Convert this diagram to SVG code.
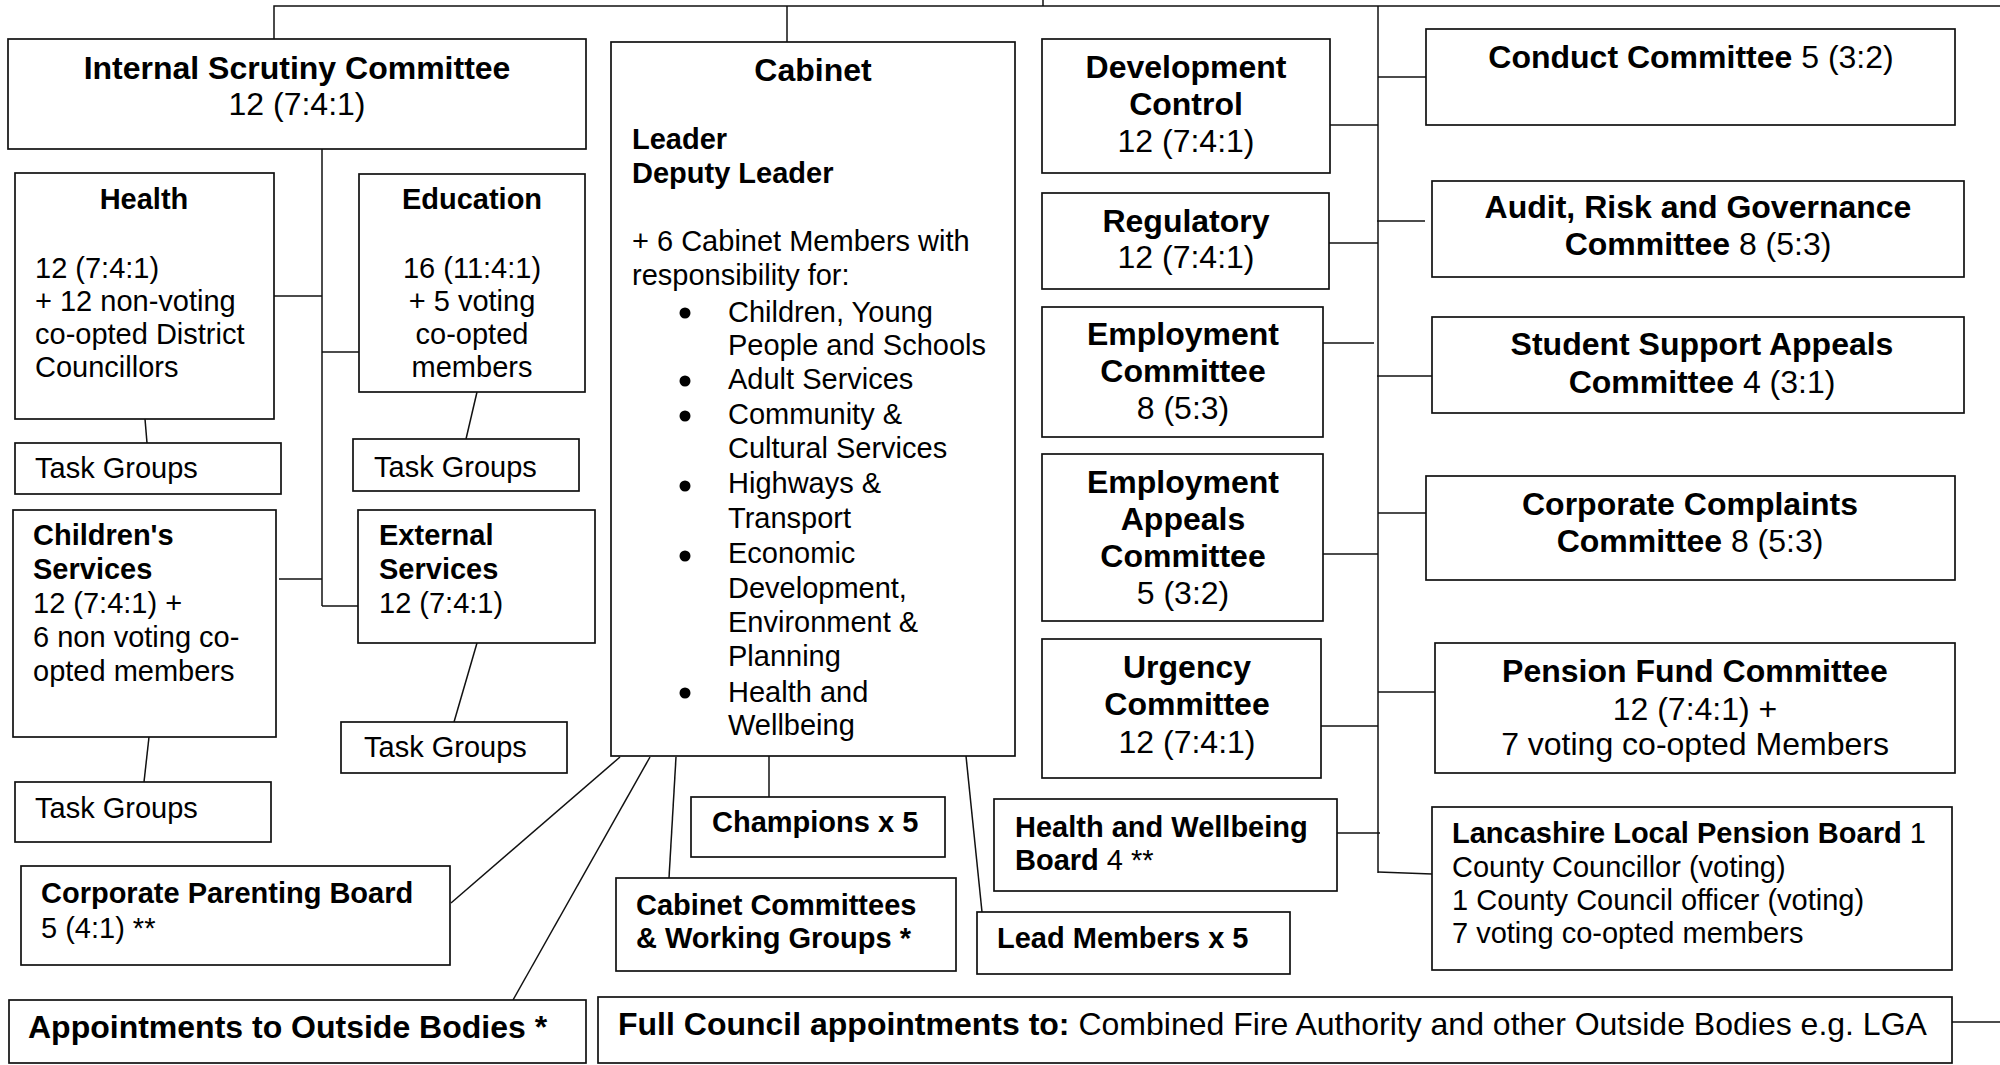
<svg xmlns="http://www.w3.org/2000/svg" width="2000" height="1065" viewBox="0 0 2000 1065">
<style>
text{font-family:"Liberation Sans",Arial,sans-serif;fill:#000}
.b{font-weight:bold}
.l{font-size:32px}
.s{font-size:29px}
.c{text-anchor:middle}
rect{fill:#fff;stroke:#111;stroke-width:1.7}
.cn line,.cn polyline{stroke:#111;stroke-width:1.5;fill:none}
.dot{fill:#000}
</style>
<rect x="0" y="0" width="2000" height="1065" style="stroke:none"/>
<g id="connectors" class="cn">
<polyline points="274,39 274,6 2000,6"/>
<line x1="1043" y1="0" x2="1043" y2="6"/>
<line x1="787" y1="6" x2="787" y2="42"/>
<line x1="1378" y1="6" x2="1378" y2="873"/>
<line x1="322" y1="149" x2="322" y2="606"/>
<line x1="274" y1="296" x2="322" y2="296"/>
<line x1="322" y1="352" x2="359" y2="352"/>
<line x1="279" y1="579" x2="322" y2="579"/>
<line x1="322" y1="606" x2="358" y2="606"/>
<line x1="145" y1="419" x2="147" y2="443"/>
<line x1="477" y1="392" x2="466" y2="439"/>
<line x1="477" y1="643" x2="454" y2="722"/>
<line x1="149" y1="737" x2="144" y2="782"/>
<line x1="620" y1="757" x2="451" y2="903"/>
<line x1="650" y1="757" x2="513" y2="1000"/>
<line x1="676" y1="757" x2="669" y2="878"/>
<line x1="769" y1="756" x2="769" y2="797"/>
<line x1="966" y1="756" x2="982" y2="912"/>
<line x1="1330" y1="125" x2="1378" y2="125"/>
<line x1="1329" y1="243" x2="1378" y2="243"/>
<line x1="1323" y1="343" x2="1374" y2="343"/>
<line x1="1323" y1="554" x2="1378" y2="554"/>
<line x1="1321" y1="726" x2="1378" y2="726"/>
<line x1="1337" y1="833" x2="1380" y2="833"/>
<line x1="1378" y1="77" x2="1426" y2="77"/>
<line x1="1377" y1="221" x2="1425" y2="221"/>
<line x1="1377" y1="376" x2="1432" y2="376"/>
<line x1="1378" y1="513" x2="1431" y2="513"/>
<line x1="1378" y1="692" x2="1435" y2="692"/>
<line x1="1378" y1="872" x2="1432" y2="874"/>
<line x1="1952" y1="1022" x2="2000" y2="1022"/>
</g>
<g id="isc"><rect x="8" y="39" width="578" height="110"/>
<text class="b l c" x="297" y="79">Internal Scrutiny Committee</text>
<text class="l c" x="297" y="115">12 (7:4:1)</text></g>
<g id="health"><rect x="15" y="173" width="259" height="246"/>
<text class="b s c" x="144" y="209">Health</text>
<text class="s" x="35" y="278">12 (7:4:1)</text>
<text class="s" x="35" y="311">+ 12 non-voting</text>
<text class="s" x="35" y="344">co-opted District</text>
<text class="s" x="35" y="377">Councillors</text></g>
<g id="education"><rect x="359" y="174" width="226" height="218"/>
<text class="b s c" x="472" y="209">Education</text>
<text class="s c" x="472" y="278">16 (11:4:1)</text>
<text class="s c" x="472" y="311">+ 5 voting</text>
<text class="s c" x="472" y="344">co-opted</text>
<text class="s c" x="472" y="377">members</text></g>
<g id="tg1"><rect x="15" y="443" width="266" height="51"/>
<text class="s" x="35" y="478">Task Groups</text></g>
<g id="tg2"><rect x="353" y="439" width="226" height="52"/>
<text class="s" x="374" y="477">Task Groups</text></g>
<g id="childrens"><rect x="13" y="510" width="263" height="227"/>
<text class="b s" x="33" y="545">Children's</text>
<text class="b s" x="33" y="579">Services</text>
<text class="s" x="33" y="613">12 (7:4:1) +</text>
<text class="s" x="33" y="647">6 non voting co-</text>
<text class="s" x="33" y="681">opted members</text></g>
<g id="external"><rect x="358" y="510" width="237" height="133"/>
<text class="b s" x="379" y="545">External</text>
<text class="b s" x="379" y="579">Services</text>
<text class="s" x="379" y="613">12 (7:4:1)</text></g>
<g id="tg3"><rect x="341" y="722" width="226" height="51"/>
<text class="s" x="364" y="757">Task Groups</text></g>
<g id="tg4"><rect x="15" y="782" width="256" height="60"/>
<text class="s" x="35" y="818">Task Groups</text></g>
<g id="cabinet"><rect x="611" y="42" width="404" height="714"/>
<text class="b l c" x="813" y="81">Cabinet</text>
<text class="b s" x="632" y="149">Leader</text>
<text class="b s" x="632" y="183">Deputy Leader</text>
<text class="s" x="632" y="251">+ 6 Cabinet Members with</text>
<text class="s" x="632" y="285">responsibility for:</text>
<circle class="dot" cx="685" cy="313" r="5.5"/>
<circle class="dot" cx="685" cy="381" r="5.5"/>
<circle class="dot" cx="685" cy="416" r="5.5"/>
<circle class="dot" cx="685" cy="486" r="5.5"/>
<circle class="dot" cx="685" cy="556" r="5.5"/>
<circle class="dot" cx="685" cy="693" r="5.5"/>
<text class="s" x="728" y="322">Children, Young</text>
<text class="s" x="728" y="355">People and Schools</text>
<text class="s" x="728" y="389">Adult Services</text>
<text class="s" x="728" y="424">Community &amp;</text>
<text class="s" x="728" y="458">Cultural Services</text>
<text class="s" x="728" y="493">Highways &amp;</text>
<text class="s" x="728" y="528">Transport</text>
<text class="s" x="728" y="563">Economic</text>
<text class="s" x="728" y="598">Development,</text>
<text class="s" x="728" y="632">Environment &amp;</text>
<text class="s" x="728" y="666">Planning</text>
<text class="s" x="728" y="702">Health and</text>
<text class="s" x="728" y="735">Wellbeing</text></g>
<g id="devcontrol"><rect x="1042" y="39" width="288" height="134"/>
<text class="b l c" x="1186" y="78">Development</text>
<text class="b l c" x="1186" y="115">Control</text>
<text class="l c" x="1186" y="152">12 (7:4:1)</text></g>
<g id="regulatory"><rect x="1042" y="193" width="287" height="96"/>
<text class="b l c" x="1186" y="232">Regulatory</text>
<text class="l c" x="1186" y="268">12 (7:4:1)</text></g>
<g id="employment"><rect x="1042" y="307" width="281" height="130"/>
<text class="b l c" x="1183" y="345">Employment</text>
<text class="b l c" x="1183" y="382">Committee</text>
<text class="l c" x="1183" y="419">8 (5:3)</text></g>
<g id="empappeals"><rect x="1042" y="454" width="281" height="167"/>
<text class="b l c" x="1183" y="493">Employment</text>
<text class="b l c" x="1183" y="530">Appeals</text>
<text class="b l c" x="1183" y="567">Committee</text>
<text class="l c" x="1183" y="604">5 (3:2)</text></g>
<g id="urgency"><rect x="1042" y="639" width="279" height="139"/>
<text class="b l c" x="1187" y="678">Urgency</text>
<text class="b l c" x="1187" y="715">Committee</text>
<text class="l c" x="1187" y="753">12 (7:4:1)</text></g>
<g id="hwb"><rect x="994" y="799" width="343" height="92"/>
<text class="b s" x="1015" y="837">Health and Wellbeing</text>
<text class="s" x="1015" y="870"><tspan class="b">Board</tspan> 4 **</text></g>
<g id="champions"><rect x="691" y="797" width="254" height="60"/>
<text class="b s" x="712" y="832">Champions x 5</text></g>
<g id="cabcommittees"><rect x="616" y="878" width="340" height="93"/>
<text class="b s" x="636" y="915">Cabinet Committees</text>
<text class="b s" x="636" y="948">&amp; Working Groups *</text></g>
<g id="leadmembers"><rect x="977" y="912" width="313" height="62"/>
<text class="b s" x="997" y="948">Lead Members x 5</text></g>
<g id="cpb"><rect x="21" y="866" width="429" height="99"/>
<text class="b s" x="41" y="903">Corporate Parenting Board</text>
<text class="s" x="41" y="938">5 (4:1) **</text></g>
<g id="appointments"><rect x="9" y="1000" width="577" height="63"/>
<text class="b l" x="28" y="1038">Appointments to Outside Bodies *</text></g>
<g id="fullcouncil"><rect x="598" y="997" width="1354" height="66"/>
<text class="l" x="618" y="1035"><tspan class="b">Full Council appointments to:</tspan> Combined Fire Authority and other Outside Bodies e.g. LGA</text></g>
<g id="conduct"><rect x="1426" y="29" width="529" height="96"/>
<text class="l c" x="1691" y="68"><tspan class="b">Conduct Committee</tspan> 5 (3:2)</text></g>
<g id="audit"><rect x="1432" y="181" width="532" height="96"/>
<text class="b l c" x="1698" y="218">Audit, Risk and Governance</text>
<text class="l c" x="1698" y="255"><tspan class="b">Committee</tspan> 8 (5:3)</text></g>
<g id="student"><rect x="1432" y="317" width="532" height="96"/>
<text class="b l c" x="1702" y="355">Student Support Appeals</text>
<text class="l c" x="1702" y="393"><tspan class="b">Committee</tspan> 4 (3:1)</text></g>
<g id="complaints"><rect x="1426" y="476" width="529" height="104"/>
<text class="b l c" x="1690" y="515">Corporate Complaints</text>
<text class="l c" x="1690" y="552"><tspan class="b">Committee</tspan> 8 (5:3)</text></g>
<g id="pensionfund"><rect x="1435" y="643" width="520" height="130"/>
<text class="b l c" x="1695" y="682">Pension Fund Committee</text>
<text class="l c" x="1695" y="720">12 (7:4:1) +</text>
<text class="l c" x="1695" y="755">7 voting co-opted Members</text></g>
<g id="pensionboard"><rect x="1432" y="807" width="520" height="163"/>
<text class="s" x="1452" y="843"><tspan class="b">Lancashire Local Pension Board</tspan> 1</text>
<text class="s" x="1452" y="877">County Councillor (voting)</text>
<text class="s" x="1452" y="910">1 County Council officer (voting)</text>
<text class="s" x="1452" y="943">7 voting co-opted members</text></g>
</svg>
